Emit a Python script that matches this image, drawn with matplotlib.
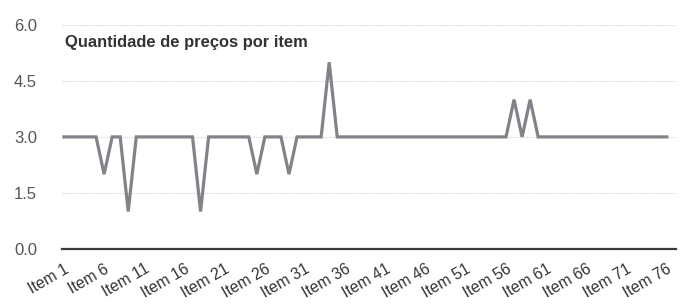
import matplotlib.pyplot as plt
from matplotlib.ticker import FixedLocator

plt.rcParams["font.family"] = ["Liberation Sans", "DejaVu Sans"]

# data (price counts are whole numbers)
items = [f"Item {i}" for i in range(1, 77)]
precos = [3] * 76
for pos, val in {6: 2, 9: 1, 18: 1, 25: 2, 29: 2, 34: 5, 57: 4, 59: 4}.items():
    precos[pos - 1] = val
y_ticks = [0.0, 1.5, 3.0, 4.5, 6.0]
x_tick_every = 5

fig = plt.figure(figsize=(6.88, 3.08), dpi=100)
ax = fig.add_axes([0.090, 0.192, 0.892, 0.727])

x = list(range(1, len(items) + 1))
ax.plot(x, precos, color="#818388", linewidth=2.3, solid_joinstyle="miter", zorder=3)

ax.set_xlim(0.75, 77.1)
ax.set_ylim(0, 6)
ax.yaxis.set_major_locator(FixedLocator(y_ticks))
ax.set_yticklabels([f"{v:.1f}" for v in y_ticks])
ax.set_xticks(x[::x_tick_every])
ax.set_xticklabels(items[::x_tick_every], rotation=30, ha="right",
                   rotation_mode="anchor", fontsize=11.3, color="#333333")
ax.tick_params(axis="y", labelsize=12, labelcolor="#555555", length=0, pad=18)
ax.tick_params(axis="x", length=0, pad=9)

ax.grid(True, axis="y", color="#d2d2d2", linestyle=(0, (1, 1)), linewidth=0.8)
ax.set_axisbelow(True)
for s in ["top", "right", "left"]:
    ax.spines[s].set_visible(False)
ax.spines["bottom"].set_color("#3a3a3a")
ax.spines["bottom"].set_linewidth(1.6)
ax.spines["bottom"].set_zorder(4)

ax.text(0.005, 0.902, "Quantidade de preços por item", transform=ax.transAxes,
        fontsize=11.9, fontweight="bold", color="#333333", va="baseline", ha="left")

fig.savefig("out.png", dpi=100)
plt.close(fig)
